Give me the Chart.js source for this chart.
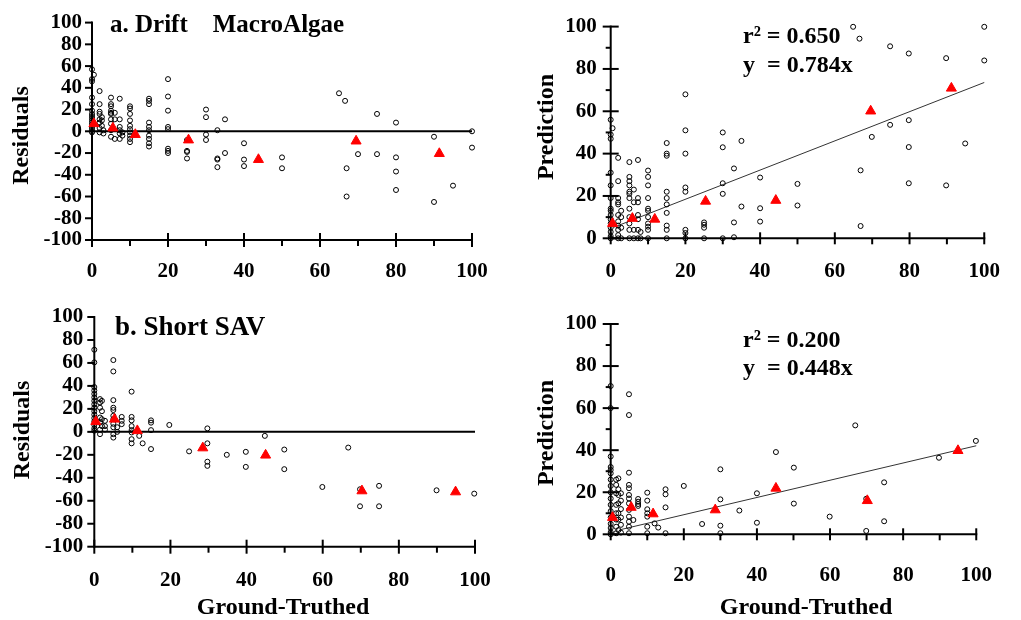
<!DOCTYPE html>
<html><head><meta charset="utf-8">
<script src="https://cdn.jsdelivr.net/npm/chart.js@4.4.0/dist/chart.umd.min.js"></script>
<style>
html,body{margin:0;padding:0;background:#fff;}
#wrap{position:relative;width:1021px;height:620px;overflow:hidden;background:#fff;}
canvas{position:absolute;left:0;top:0;}
</style></head><body>
<div id="wrap">
<canvas id="c1" width="1021" height="620"></canvas>
<canvas id="c2" width="1021" height="620"></canvas>
<canvas id="c3" width="1021" height="620"></canvas>
<canvas id="c4" width="1021" height="620"></canvas>
</div>
<script>
// ---------- tick labels ----------
const xTickValues = [0, 20, 40, 60, 80, 100];
const residTickValues = [-100, -80, -60, -40, -20, 0, 20, 40, 60, 80, 100];
const predTickValues = [0, 20, 40, 60, 80, 100];

// ---------- a. Drift MacroAlgae : residuals (columns: [ground-truthed, residuals...]) ----------
const driftResidCols = [
 [0, 57,48,46,31,25,19,16,14,12,10,8,6,4,2,0,-1],
 [0.5, 52],
 [2, 37,25,18,16,11,8,3,-1],
 [2.6, 13,10,5],
 [3, 1,-2],
 [5, 31,25,23,19,17,16,11,7,1,-5],
 [6, 17,11,-7],
 [7.3, 30,11,4,1,-2,-7],
 [8, -1,-4],
 [10, 23,21,16,10,5,2,-1,-4,-7,-10],
 [15, 30,28,25,8,4,1,-4,-7,-11,-14],
 [20, 48,32,19,4,2,-16,-18,-20],
 [25, -8,-18,-19,-25],
 [30, 20,13,-3,-8],
 [33, 1,-25,-26,-33],
 [35, 11,-20],
 [40, -11,-26,-32],
 [50, -24,-34],
 [65, 35],[66.6, 28],[67, -34,-60],[70, -21],[75, 16,-21],
 [80, 8,-24,-37,-54],[90, -5,-65],[95, -50],[100, 0,-15]
];
const driftResidMeans = [[0.5,7],[5.5,3],[11.4,-3],[25.4,-8],[43.8,-26],[69.5,-9],[91.4,-20.5]];

// ---------- a. Drift MacroAlgae : prediction ----------
const driftPredCols = [
 [0, 56,49,47,31,25,19,14,13,11,9,7,5,3,1,0],
 [0.5, 52],
 [2, 38,27,19,17,16,11,8,6,4,1.5,0],
 [2.8, 13,10,5,0],
 [5, 36,29,27,25,22,21,19,14,10,7,4,0],
 [6.2, 23,17,4,0],
 [7.3, 37,19,17,11,9,4,0],
 [8, 3,0],
 [10, 32,29,25,19,14,13,10,7,5.5,4,0],
 [15, 45,40,39,22,19,16,12,6,4,0],
 [20, 68,51,40,24,22,4,2.5,0],
 [25, 7.5,6.4,5,0],
 [30, 50,43,26,21,0],
 [33, 33,7.5,0.5],
 [35, 46,15],
 [40, 28.7,14.2,7.9],
 [50, 25.7,15.5],
 [64.9, 99.9],[66.6, 94.3],[66.9, 32.1,5.8],[69.9, 47.9],[74.8, 90.7,53.6],
 [79.8, 87.3,55.8,43.1,26],[89.8, 85.1,25],[94.9, 44.8],[100, 99.9,84]
];
const driftPredMeans = [[0.5,7],[5.8,9.4],[11.8,9],[25.4,17.5],[44.2,17.9],[69.6,60.1],[91.2,70.9]];
const driftFitLine = [[0.8,5.2],[100,73.6]];

// ---------- b. Short SAV : residuals ----------
const savResidCols = [
 [0, 71.5,60.5,39,36,33,30,27,24,21,18,15,12,9,6,3,1],
 [1.5, 28.5,25.6,21,12.5,8,2,-2],
 [2, 27,18,11,5],
 [2.8, 9.6,5,2],
 [5, 62.5,52.6,27.6,21,19,14,11,7,4,-2,-5],
 [6, 0,4],
 [7.2, 13,9.6,6.7],
 [9.8, 35,13,10,5,1.5,-0.5,-6.4,-10],
 [11.8, -3.5],[12.7, -10],
 [14.9, 10,8,1.5,-15],
 [19.7, 6],[24.9, -17],
 [29.7, 3,-10,-26,-29.6],
 [34.8, -20],[39.8, -17.4,-30.5],[44.8, -3.5],[49.9, -15.4,-32.5],[59.9, -48],
 [66.7, -13.7],[69.8, -50,-64.8],[74.8, -47,-64.8],[89.9, -50.9],[99.8, -53.8]
];
const savResidMeans = [[0.4,9],[5.3,11],[11.3,1],[28.5,-14],[45,-20.3],[70.3,-51.4],[94.9,-52.3]];

// ---------- b. Short SAV : prediction ----------
const savPredCols = [
 [0, 70.5,60,37,32,30.6,29,26,23,20,17,14,11,8,5,3,1,0],
 [1.5, 26,23.5,19.5,14,10,7,3.6,0.5],
 [2.1, 26.6,21.4,18.7,14.7,10,7,2],
 [2.8, 19.5,16,12,8,4.5,0.8],
 [5, 66.6,56.7,29.3,23.5,21.9,18.7,17,14.7,11.6,8.4,6,3.6,0.5],
 [6.2, 6.8],
 [7.5, 16.8,15.5,14.4,13.5],
 [10, 19.8,16,11.9,10,8.4,3.6,0.5],
 [12, 5.2],[13, 3.2],
 [15, 21.4,19,12.8,0.5],
 [20, 23],[25, 4.9],
 [30, 30.9,16.6,4.1,0.5],
 [35.2, 11.3],[40, 19.5,5.5],[45.2, 39.1],[50.1, 31.7,14.6],[59.9, 8.4],[66.9, 51.8],
 [69.9, 16.9,1.6],[74.8, 24.7,6.2],[89.8, 36.4],[99.9, 44.4]
];
const savPredMeans = [[0.5,8],[5.6,12.8],[11.6,9.7],[28.6,11.6],[45.2,21.9],[70.2,16],[95,39.8]];
const savFitLine = [[2.4,2.1],[100,42.1]];

// ---------- helpers ----------
const FAMILY = '"Liberation Serif", "Times New Roman", serif';
function expandCols(cols) {
  const out = [];
  cols.forEach(c => { for (let i = 1; i < c.length; i++) out.push({x: c[0], y: c[i]}); });
  return out;
}
const pairs = arr => arr.map(p => ({x: p[0], y: p[1]}));

const panelPlugin = {
  id: 'panel',
  beforeDatasetsDraw(chart, args, o) {
    const {ctx} = chart;
    const xs = chart.scales.x, ys = chart.scales.y;
    const X = v => xs.getPixelForValue(v), Y = v => ys.getPixelForValue(v);
    const x0 = X(0), x1 = X(100), yb = Y(ys.min), yt = Y(ys.max);
    ctx.save();
    ctx.strokeStyle = '#000';
    ctx.lineWidth = 2;
    const seg = (a, b, c, d) => { ctx.beginPath(); ctx.moveTo(a, b); ctx.lineTo(c, d); ctx.stroke(); };
    seg(x0, yb + 1, x0, yt - 1);
    seg(x0 - 1, yb, x1 + 1, yb);
    for (let v = ys.min; v <= ys.max + 0.001; v += 10) {
      const py = Y(v);
      if (Math.round(v) % 20 === 0) seg(x0 - o.yMajL, py, x0 + o.yMajR, py);
      else if (o.yMinor) seg(x0 - 5, py, x0, py);
    }
    for (let v = 0; v <= 100; v += 10) {
      const px = X(v);
      if (v % 20 === 0) seg(px, yb - o.xMajU, px, yb + o.xMajD);
      else seg(px, yb, px, yb + 6);
    }
    if (o.zero) seg(x0, Y(0), x1, Y(0));
    ctx.restore();
  },
  afterDraw(chart, args, o) {
    const {ctx} = chart;
    ctx.save();
    ctx.fillStyle = '#000';
    (o.texts || []).forEach(t => {
      ctx.font = 'bold ' + t.size + 'px ' + FAMILY;
      ctx.textAlign = t.align || 'left';
      ctx.textBaseline = t.base || 'alphabetic';
      if (t.rot) {
        ctx.save(); ctx.translate(t.x, t.y); ctx.rotate(-Math.PI / 2);
        ctx.fillText(t.t, 0, 0); ctx.restore();
      } else {
        ctx.fillText(t.t, t.x, t.y);
      }
    });
    ctx.restore();
  }
};

function makeChart(id, p) {
  const datasets = [
    {data: expandCols(p.cols), pointStyle: 'circle', pointRadius: 2.5, pointBorderWidth: 1,
     borderColor: '#000', backgroundColor: 'rgba(0,0,0,0)', clip: false, order: 1},
    {data: pairs(p.means), pointStyle: 'triangle', pointRadius: 5.8, pointBorderWidth: 1,
     borderColor: '#ff0000', backgroundColor: '#ff0000', clip: false, order: 0}
  ];
  if (p.fit) datasets.push({data: pairs(p.fit), showLine: true, pointRadius: 0, borderWidth: 1,
     borderColor: '#333', backgroundColor: '#333', clip: false, order: 2});
  return new Chart(document.getElementById(id), {
    type: 'scatter',
    data: {datasets},
    options: {
      responsive: false, animation: false, devicePixelRatio: 1,
      events: [],
      layout: {padding: p.pad},
      plugins: {legend: {display: false}, tooltip: {enabled: false}, panel: p.panel},
      scales: {
        x: {type: 'linear', min: 0, max: 100,
            afterBuildTicks: s => { s.ticks = xTickValues.map(v => ({value: v})); },
            afterFit: s => { s.height = 60; },
            grid: {display: false, drawTicks: false}, border: {display: false},
            ticks: {padding: p.xPad, color: '#000', autoSkip: false, maxRotation: 0,
                    font: {family: FAMILY, size: 21, weight: 'bold'}}},
        y: {type: 'linear', min: p.yTicks[0], max: p.yTicks[p.yTicks.length - 1],
            afterBuildTicks: s => { s.ticks = p.yTicks.map(v => ({value: v})); },
            afterFit: s => { s.width = p.yW; },
            grid: {display: false, drawTicks: false}, border: {display: false},
            ticks: {padding: p.yPad, color: '#000', autoSkip: false,
                    font: {family: FAMILY, size: 21, weight: 'bold'}}}
      }
    },
    plugins: [panelPlugin]
  });
}

// a. residuals
makeChart('c1', {
  cols: driftResidCols, means: driftResidMeans, yTicks: residTickValues,
  pad: {left: 0, top: 15.7, right: 549, bottom: 320}, yW: 92, xPad: 19, yPad: 10,
  panel: {zero: true, yMajL: 7, yMajR: 0, yMinor: false, xMajU: 7, xMajD: 7,
    texts: [
      {t: 'a. Drift    MacroAlgae', x: 110, y: 32, size: 25},
      {t: 'Residuals', x: 22, y: 135.5, size: 24, rot: true, align: 'center', base: 'middle'}
    ]}
});
// a. prediction
makeChart('c2', {
  cols: driftPredCols, means: driftPredMeans, fit: driftFitLine, yTicks: predTickValues,
  pad: {left: 550.7, top: 15, right: 19.3, bottom: 321.7}, yW: 60, xPad: 21, yPad: 14,
  panel: {zero: false, yMajL: 8, yMajR: 8, yMinor: true, xMajU: 6, xMajD: 6,
    texts: [
      {t: 'r\u00B2 = 0.650', x: 743, y: 43, size: 24},
      {t: 'y  = 0.784x', x: 743, y: 72, size: 24},
      {t: 'Prediction', x: 547, y: 127, size: 24, rot: true, align: 'center', base: 'middle'}
    ]}
});
// b. residuals
makeChart('c3', {
  cols: savResidCols, means: savResidMeans, yTicks: residTickValues,
  pad: {left: 0, top: 317, right: 546, bottom: 13.3}, yW: 94.3, xPad: 21, yPad: 11,
  panel: {zero: true, yMajL: 7, yMajR: 0, yMinor: false, xMajU: 7, xMajD: 7,
    texts: [
      {t: 'b. Short SAV', x: 115, y: 335, size: 27},
      {t: 'Residuals', x: 23, y: 430, size: 24, rot: true, align: 'center', base: 'middle'},
      {t: 'Ground-Truthed', x: 283, y: 614, size: 24, align: 'center'}
    ]}
});
// b. prediction
makeChart('c4', {
  cols: savPredCols, means: savPredMeans, fit: savFitLine, yTicks: predTickValues,
  pad: {left: 550.7, top: 324, right: 19.3, bottom: 25.7}, yW: 60, xPad: 29, yPad: 14,
  panel: {zero: false, yMajL: 8, yMajR: 8, yMinor: true, xMajU: 6, xMajD: 6,
    texts: [
      {t: 'r\u00B2 = 0.200', x: 743, y: 347, size: 24},
      {t: 'y  = 0.448x', x: 743, y: 375, size: 24},
      {t: 'Prediction', x: 547, y: 433, size: 24, rot: true, align: 'center', base: 'middle'},
      {t: 'Ground-Truthed', x: 806, y: 614, size: 24, align: 'center'}
    ]}
});
</script>
</body></html>
